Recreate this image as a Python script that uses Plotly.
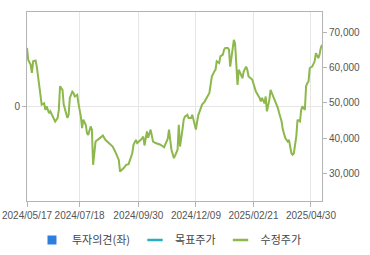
import plotly.graph_objects as go

# trading-day index (0 = 2024/05/17) and adjusted close price (수정주가)
trading_day = [0,1,3,4,5,7,8,10,11,12,14,15,16,18,19,21,23,25,26,27,
               29,30,33,34,35,37,38,39,41,42,44,45,46,48,49,50,52,53,54,56,
               60,62,64,67,70,72,75,76,78,79,81,83,86,87,89,90,93,95,96,98,
               99,101,103,105,109,112,115,116,118,120,121,123,124,125,127,128,129,131,132,134,
               135,136,138,139,140,142,143,145,147,149,150,151,153,154,155,157,158,160,161,162,
               164,165,166,168,169,170,171,172,173,175,176,177,179,180,181,184,187,190,191,192,
               194,195,196,198,199,200,203,205,206,208,209,211,213,214,216,217,218,220,221,223,
               224,225,227,228,229,230,231,233,235,236,238,239,240,241]
price = [65600,62200,60800,58500,61800,62000,60300,54200,50900,49500,
         49900,48000,49000,47100,47600,46000,44700,45700,48000,54700,
         53700,49500,45700,46600,51400,53200,52800,51800,52300,49900,
         46100,42800,45200,43800,41400,40900,43300,42400,32400,39000,
         40000,40700,39500,38600,37600,36200,33800,30500,31000,31500,
         32400,32600,35700,38100,39500,38600,39500,40400,37900,41900,
         40100,42400,39000,38600,38100,37400,39800,42400,36700,34300,
         35000,36700,43800,37600,42400,45200,46100,46600,45700,45700,
         46600,45200,42400,44700,46600,48500,49500,50300,51400,52800,
         55100,57500,58900,59400,61800,61300,63200,63700,65100,65600,
         65600,65100,60300,66500,67900,66800,61400,55100,59400,58000,
         57000,58900,60300,59400,57500,56600,53200,51400,50400,51400,
         49900,51800,47600,50900,53700,52800,50400,48500,47100,44700,
         42400,40000,39000,39500,35700,35300,35700,40500,45200,44700,
         48000,49000,48000,54700,55600,56100,59900,60300,61800,64100,
         62700,63700,65600,66500]

tick_days = [0, 43, 91, 138, 185, 232]
tick_labels = ["2024/05/17", "2024/07/18", "2024/09/30", "2024/12/09", "2025/02/21", "2025/04/30"]
price_ticks = [30000, 40000, 50000, 60000, 70000]
legend_names = ["투자의견(좌)", "목표주가", "수정주가"]

GREEN = "#8cb84c"
TEAL = "#29aebf"
BLUE = "#2e7ee0"
AXIS = "#b4b4b4"
GRID = "#e6e6e6"
TXT = "#555555"

fig = go.Figure()

fig.add_trace(go.Scatter(x=trading_day, y=price, mode="lines", yaxis="y2",
                         line=dict(color=GREEN, width=2), showlegend=False,
                         hoverinfo="skip"))

# legend-only entries
fig.add_trace(go.Scatter(x=[None], y=[None], mode="markers", name=legend_names[0],
                         marker=dict(symbol="square", size=9, color=BLUE)))
fig.add_trace(go.Scatter(x=[None], y=[None], mode="markers", name=legend_names[1],
                         marker=dict(symbol="line-ew", size=11,
                                     line=dict(color=TEAL, width=2.5))))
fig.add_trace(go.Scatter(x=[None], y=[None], mode="markers", name=legend_names[2],
                         marker=dict(symbol="line-ew", size=11,
                                     line=dict(color=GREEN, width=2.5))))

tick_font = dict(family="Liberation Sans, Arial, sans-serif", size=10, color=TXT)

fig.update_layout(
    width=370, height=255,
    margin=dict(l=27, r=48, t=12, b=54, autoexpand=False),
    paper_bgcolor="white", plot_bgcolor="white",
    showlegend=True,
    legend=dict(orientation="h", x=0.483, xanchor="center", y=-0.13, yanchor="top",
                font=dict(family="Noto Sans CJK KR, sans-serif", size=11, color="#444444"),
                itemwidth=30, tracegroupgap=0),
    xaxis=dict(range=[0, 241], tickvals=tick_days, ticktext=tick_labels, tickangle=0,
               showgrid=True, gridcolor=GRID, gridwidth=1, automargin=False,
               showline=True, linecolor=AXIS, linewidth=1, mirror=True,
               ticks="outside", ticklen=5, tickcolor=AXIS, tickfont=tick_font,
               zeroline=False, fixedrange=True),
    yaxis=dict(range=[-1, 1], tickvals=[0], ticktext=["0"], automargin=False,
               showgrid=True, gridcolor=GRID, gridwidth=1,
               showline=True, linecolor=AXIS, linewidth=1, mirror=True,
               ticks="outside", ticklen=4, tickcolor=AXIS, tickfont=tick_font,
               zeroline=False, fixedrange=True),
    yaxis2=dict(range=[22130, 75800], tickvals=price_ticks, tickformat=",", automargin=False,
                overlaying="y", side="right", showgrid=False,
                showline=True, linecolor=AXIS, linewidth=1,
                ticks="outside", ticklen=4, tickcolor=AXIS, tickfont=tick_font,
                zeroline=False, fixedrange=True),
)

fig.write_html("out.html")
